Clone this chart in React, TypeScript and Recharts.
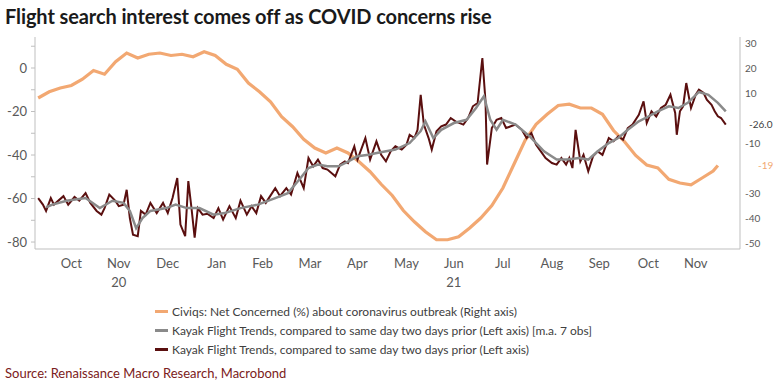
import React from "react";
import { LineChart, Line, XAxis, YAxis, ReferenceDot, Label } from "recharts";

// days counted from 2020-09-23 (left edge of the chart)
const monthTicks = [23, 53, 84, 115, 144, 174, 204, 235, 265, 296, 327, 357, 388, 418];
const monthLabels = ["Oct", "Nov", "Dec", "Jan", "Feb", "Mar", "Apr", "May", "Jun", "Jul", "Aug", "Sep", "Oct", "Nov"];
const yearLabels: Record<number, string> = { 53: "20", 265: "21" };

const leftTicks = [10, 0, -10, -20, -30, -40, -50, -60, -70, -80];
const rightTicks = [30, 20, 10, 0, -10, -20, -30, -40, -50];

// Civiqs: Net Concerned (%) — right axis
const civiqsDays = [2, 9, 16, 23, 30, 37, 44, 51, 58, 65, 72, 79, 86, 93, 100, 107, 114, 121, 128, 135, 142, 149, 156, 163, 170, 177, 184, 191, 198, 205, 212, 219, 226, 233, 240, 247, 254, 261, 268, 275, 282, 289, 296, 303, 310, 317, 324, 331, 338, 345, 352, 359, 366, 373, 380, 387, 394, 401, 408, 415, 422, 429, 432];
const civiqsValues = [8, 10.5, 12, 13, 15.5, 19, 17.5, 22.5, 26, 24, 25.5, 26, 25, 25.5, 24.5, 26.5, 25, 21.5, 19.5, 14, 10.5, 6.5, 0.5, -3.5, -8.5, -12, -14, -12, -14, -17.5, -21.5, -26.5, -31, -37, -41.5, -45.5, -48.7, -48.7, -47.5, -44, -40, -35, -28, -18.5, -9, -2.5, 1.5, 5, 5.5, 4, 4, 1.5, -5, -9.5, -15, -18.8, -20, -24.5, -26, -26.7, -24, -21.2, -19];

// Kayak flight trends, m.a. 7 obs — left axis
const kayakMaDays = [7, 11, 20, 32, 41, 49, 56, 60, 64, 68, 73, 83, 89, 96, 104, 113, 120, 130, 141, 152, 160, 168, 173, 179, 185, 192, 198, 204, 211, 217, 223, 228, 237, 244, 247, 252, 257, 265, 273, 279, 284, 288, 292, 296, 304, 313, 322, 330, 337, 344, 350, 356, 363, 369, 375, 382, 388, 394, 401, 407, 413, 420, 426, 432, 437];
const kayakMaValues = [-64, -62.8, -61, -59.8, -64.4, -61, -62, -65.7, -73.6, -69, -65.7, -64.4, -62.8, -64.4, -64.4, -67.4, -66.7, -64.4, -62.8, -59.8, -57.5, -50.6, -46, -44.4, -45.2, -45.2, -43, -40.6, -39.9, -39, -38.2, -37.5, -34.5, -29, -24.5, -32.2, -28.4, -25.3, -23.8, -18.4, -13, -23.8, -28.4, -23.8, -26, -31.4, -38.3, -42.1, -42.1, -41.4, -42.1, -38.3, -34.5, -32.2, -28.4, -24.5, -22.3, -19.9, -17.6, -18.4, -16, -11, -12.3, -16, -19.9];

// Kayak flight trends, daily — left axis
const kayakDays = [2, 5, 7, 10, 12, 18, 21, 25, 28, 32, 35, 39, 42, 44, 47, 51, 53, 56, 58, 60, 62, 65, 67, 70, 73, 77, 81, 84, 87, 90, 92, 95, 97, 99, 101, 103, 106, 109, 113, 116, 119, 123, 127, 130, 134, 137, 140, 143, 146, 152, 155, 159, 162, 166, 170, 173, 176, 179, 182, 185, 190, 193, 196, 198, 202, 204, 209, 212, 216, 219, 222, 225, 228, 232, 235, 237, 240, 242, 244, 246, 249, 251, 254, 257, 260, 263, 266, 271, 274, 277, 280, 283, 285, 286, 289, 292, 295, 298, 301, 304, 308, 311, 314, 317, 320, 323, 327, 330, 333, 336, 338, 340, 342, 345, 347, 350, 353, 356, 359, 363, 366, 369, 372, 375, 378, 382, 385, 387, 390, 393, 396, 399, 402, 405, 406, 408, 410, 412, 415, 418, 420, 423, 425, 428, 430, 432, 434, 437];
const kayakValues = [-59.8, -62.8, -65.7, -59.8, -62.8, -58.9, -62.8, -59.3, -61, -57.5, -62, -65.7, -67.4, -64.4, -58.2, -61.2, -63.5, -62.8, -56, -69, -76.6, -77.3, -65.7, -67.4, -62, -66.7, -62, -66.7, -59.8, -50.6, -72, -77.3, -52, -64.4, -78, -64.4, -67.4, -67, -69, -64.4, -69.7, -63.5, -69, -61, -67.4, -63.5, -66.7, -58.9, -62, -55.2, -58.9, -55.2, -58.2, -48.3, -55.2, -41.4, -45.2, -42.1, -46, -46.7, -49.8, -44.4, -42.9, -43.7, -36, -42.1, -32.2, -42.1, -33.7, -39.9, -42.9, -38.3, -36, -37.5, -35.3, -30.7, -32.2, -28.4, -12.3, -26, -32.2, -37.5, -29.1, -26.8, -26, -23, -24.5, -26, -23, -17.6, -16.1, 4.6, -15.3, -44.4, -27.6, -23.8, -23, -27.6, -26.8, -26, -28.4, -32.2, -29.9, -35.3, -38.3, -41.4, -43.7, -44.4, -41.4, -44.4, -41.4, -46, -28.4, -42.9, -39.9, -47.5, -40.6, -38.3, -39.9, -32.2, -33.7, -31.4, -33, -27.6, -26, -21.5, -15.3, -25.3, -19.9, -22.3, -18.4, -16.9, -12.3, -20.7, -30.7, -19.9, -17.6, -6.9, -18.4, -12.3, -10, -11.5, -14.6, -16.9, -19.9, -22.2, -23, -26];

const lastDay = 446;

const toPoints = (days: number[], values: number[]) =>
  days.map((d, i) => ({ day: d, v: values[i] }));

const civiqsData = toPoints(civiqsDays, civiqsValues);
const kayakMaData = toPoints(kayakMaDays, kayakMaValues);
const kayakData = toPoints(kayakDays, kayakValues);

const ORANGE = "#F2A872";
const GREY = "#8A8A8A";
const MAROON = "#5A0F0F";
const AXIS_TEXT = "#595959";
const FONT = "Lato, 'Open Sans', sans-serif";

const MonthTick = (props: any) => {
  const { x, y, payload } = props;
  const idx = monthTicks.indexOf(payload.value);
  const year = yearLabels[payload.value];
  return (
    <g>
      <text x={x} y={y + 19} textAnchor="middle" fontSize={13} fill={AXIS_TEXT} fontFamily={FONT}>
        {monthLabels[idx]}
      </text>
      {year && (
        <text x={x} y={y + 38} textAnchor="middle" fontSize={13} fill={AXIS_TEXT} fontFamily={FONT}>
          {year}
        </text>
      )}
    </g>
  );
};

const LeftTick = (props: any) => {
  const { x, y, payload } = props;
  if (payload.value % 20 !== 0) return null;
  return (
    <text x={x} y={y + 4.5} textAnchor="end" fontSize={13} fill={AXIS_TEXT} fontFamily={FONT}>
      {payload.value}
    </text>
  );
};

const RightTick = (props: any) => {
  const { x, y, payload } = props;
  // 0 and -20 are covered by the end-value tags
  if (payload.value === 0 || payload.value === -20) return null;
  return (
    <text x={x} y={y + 3.5} textAnchor="start" fontSize={10} fill={AXIS_TEXT} fontFamily={FONT}>
      {payload.value}
    </text>
  );
};

const endTag = (text: string, color: string, dx: number) => (p: any) => {
  const vb = p.viewBox;
  return (
    <text x={vb.x + dx} y={vb.y + vb.height / 2 + 3.5} fontSize={10} fill={color} fontFamily={FONT}>
      {text}
    </text>
  );
};

const legendItems = [
  { color: ORANGE, label: "Civiqs: Net Concerned (%) about coronavirus outbreak (Right axis)" },
  { color: GREY, label: "Kayak Flight Trends, compared to same day two days prior (Left axis) [m.a. 7 obs]" },
  { color: MAROON, label: "Kayak Flight Trends, compared to same day two days prior (Left axis)" },
];

export default function App() {
  return (
    <div style={{ position: "absolute", left: 0, top: 0, width: 780, height: 390, background: "#fff", fontFamily: FONT }}>
      <div style={{ position: "absolute", left: 5, top: 4, fontSize: 20, fontWeight: 700, color: "#1a1a1a", letterSpacing: -0.1, whiteSpace: "nowrap" }}>
        Flight search interest comes off as COVID concerns rise
      </div>
      <div style={{ position: "absolute", left: 0, top: 0 }}>
        <LineChart width={780} height={290} margin={{ top: 37, right: 0, bottom: 0, left: 0 }}>
          <XAxis
            type="number"
            dataKey="day"
            domain={[0, lastDay]}
            ticks={monthTicks}
            tick={<MonthTick />}
            tickLine={false}
            tickSize={0}
            tickMargin={0}
            height={41}
            stroke="#BFBFBF"
            allowDataOverflow
            interval={0}
          />
          <YAxis
            yAxisId="left"
            domain={[-83.2, 14.25]}
            ticks={leftTicks}
            tick={<LeftTick />}
            width={35}
            tickSize={4}
            tickMargin={4}
            stroke="#BFBFBF"
            allowDataOverflow
            interval={0}
          />
          <YAxis
            yAxisId="right"
            orientation="right"
            domain={[-52.4, 32.4]}
            ticks={rightTicks}
            tick={<RightTick />}
            width={40}
            tickLine={false}
            tickSize={0}
            tickMargin={5}
            stroke="#BFBFBF"
            allowDataOverflow
            interval={0}
          />
          <Line yAxisId="right" data={civiqsData} dataKey="v" stroke={ORANGE} strokeWidth={3.2} dot={false} isAnimationActive={false} />
          <Line yAxisId="left" data={kayakData} dataKey="v" stroke={MAROON} strokeWidth={2} dot={false} isAnimationActive={false} />
          <Line yAxisId="left" data={kayakMaData} dataKey="v" stroke={GREY} strokeWidth={2.5} dot={false} isAnimationActive={false} />
          <ReferenceDot yAxisId="left" x={lastDay} y={kayakValues[kayakValues.length - 1]} r={0} fill="none" stroke="none" ifOverflow="visible">
            <Label content={endTag("-26.0", "#404040", 9)} />
          </ReferenceDot>
          <ReferenceDot yAxisId="right" x={lastDay} y={civiqsValues[civiqsValues.length - 1]} r={0} fill="none" stroke="none" ifOverflow="visible">
            <Label content={endTag("-19", ORANGE, 18)} />
          </ReferenceDot>
        </LineChart>
      </div>
      <div style={{ position: "absolute", left: 155, top: 302, fontSize: 12, color: "#404040", lineHeight: "19px" }}>
        {legendItems.map((it) => (
          <div key={it.label} style={{ display: "flex", alignItems: "center", whiteSpace: "nowrap" }}>
            <span style={{ display: "inline-block", width: 13, height: 3, background: it.color, marginRight: 4 }} />
            {it.label}
          </div>
        ))}
      </div>
      <div style={{ position: "absolute", left: 5, top: 365, fontSize: 13, color: "#7B2020", whiteSpace: "nowrap" }}>
        Source: Renaissance Macro Research, Macrobond
      </div>
    </div>
  );
}
